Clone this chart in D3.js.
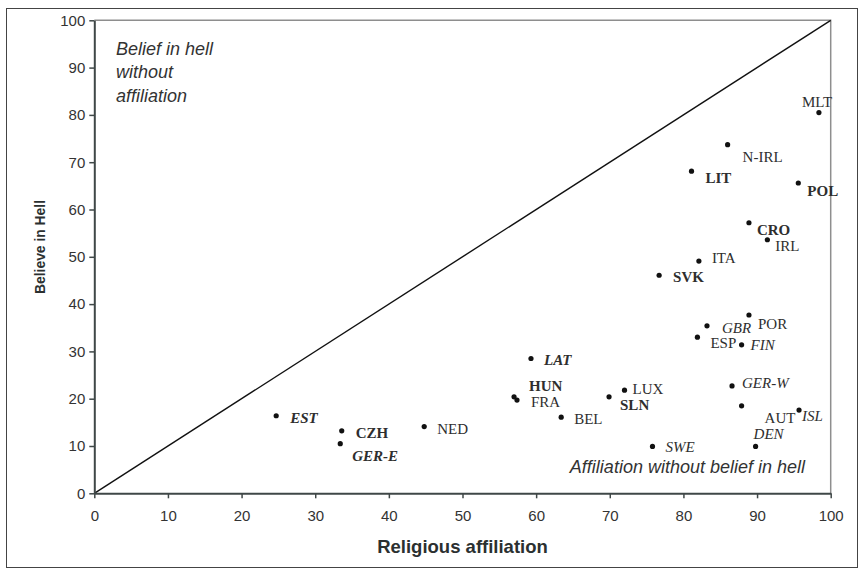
<!DOCTYPE html>
<html>
<head>
<meta charset="utf-8">
<script src="https://cdn.jsdelivr.net/npm/d3@7"></script>
<style>
  html, body { margin: 0; padding: 0; background: #fff; }
  svg { display: block; }
  .tick text { font-family: "Liberation Sans", Arial, sans-serif; font-size: 15px; fill: #333; }
  .country { font-family: "Liberation Serif", "Times New Roman", serif; font-size: 15px; fill: #2e2e2e; }
  .note { font-family: "Liberation Sans", Arial, sans-serif; font-size: 18px; font-style: italic; fill: #333; }
  .axis-title { font-family: "Liberation Sans", Arial, sans-serif; font-weight: bold; fill: #2b3030; }
</style>
</head>
<body>
<svg id="chart" width="864" height="575"></svg>
<script>
// Religious affiliation (%) vs belief in hell (%), by country
const countries = ['MLT', 'N-IRL', 'LIT', 'POL', 'CRO', 'IRL', 'ITA', 'SVK', 'POR', 'GBR', 'ESP', 'FIN', 'GER-W',
  'AUT', 'ISL', 'DEN', 'SWE', 'LUX', 'SLN', 'BEL', 'HUN', 'FRA', 'LAT', 'NED', 'EST', 'CZH', 'GER-E'];
const affiliation = [98.4, 86.0, 81.1, 95.6, 88.9, 91.4, 82.1, 76.7, 88.9, 83.2, 81.9, 87.9, 86.6,
  87.9, 95.7, 89.8, 75.8, 72.0, 69.9, 63.4, 57.0, 57.4, 59.3, 44.8, 24.7, 33.6, 33.4];
const hell = [80.5, 73.7, 68.1, 65.6, 57.2, 53.6, 49.1, 46.1, 37.7, 35.4, 33.0, 31.4, 22.7,
  18.5, 17.6, 9.9, 9.9, 21.8, 20.4, 16.1, 20.4, 19.7, 28.5, 14.1, 16.4, 13.2, 10.5];
// c = catholic/other, p = protestant, e = post-communist, ep = post-communist protestant
const groups = ['c', 'c', 'e', 'e', 'e', 'c', 'c', 'e', 'c', 'p', 'c', 'p', 'p',
  'c', 'p', 'p', 'p', 'c', 'e', 'c', 'e', 'c', 'ep', 'c', 'ep', 'e', 'ep'];
const ticks = [0, 10, 20, 30, 40, 50, 60, 70, 80, 90, 100];

// label placement relative to the dot (px), layout only
const labelNudge = {
  'MLT': [-17, -6], 'N-IRL': [15, 17], 'LIT': [14, 12], 'POL': [9, 13], 'CRO': [8, 12], 'IRL': [8, 11],
  'ITA': [13, 2], 'SVK': [14, 7], 'POR': [9, 14], 'GBR': [15, 7], 'ESP': [13, 11], 'FIN': [9, 5],
  'GER-W': [10, 2], 'AUT': [23, 17], 'ISL': [3, 11], 'DEN': [-2, -7], 'SWE': [13, 6], 'LUX': [8, 4],
  'SLN': [11, 13], 'BEL': [13, 7], 'HUN': [15, -6], 'FRA': [14, 7], 'LAT': [13, 7], 'NED': [13, 7],
  'EST': [14, 7], 'CZH': [14, 7], 'GER-E': [12, 17]
};

const points = countries.map((name, i) => ({
  name, x: affiliation[i], y: hell[i], group: groups[i]
}));

const svg = d3.select('#chart');
const x = d3.scaleLinear().domain([0, 100]).range([94.3, 830.7]);
const y = d3.scaleLinear().domain([0, 100]).range([493.3, 20.3]);

// outer frame
svg.append('rect')
  .attr('x', 6.5).attr('y', 8.5).attr('width', 851).attr('height', 559)
  .attr('fill', 'none').attr('stroke', '#444').attr('stroke-width', 1);

// top and right plot borders
svg.append('path')
  .attr('d', `M${x(0)},${y(100)}H${x(100)}V${y(0)}`)
  .attr('fill', 'none').attr('stroke', '#8e8e8e').attr('stroke-width', 1.5);

// diagonal
svg.append('line')
  .attr('x1', x(0)).attr('y1', y(0)).attr('x2', x(100)).attr('y2', y(100))
  .attr('stroke', '#111').attr('stroke-width', 1.4);

const xAxis = svg.append('g')
  .attr('transform', `translate(0,${y(0)})`)
  .call(d3.axisBottom(x).tickValues(ticks).tickSize(5).tickPadding(12).tickSizeOuter(0));
const yAxis = svg.append('g')
  .attr('transform', `translate(${x(0)},0)`)
  .call(d3.axisLeft(y).tickValues(ticks).tickSize(5).tickPadding(4).tickSizeOuter(0));

[xAxis, yAxis].forEach(g => {
  g.select('.domain').attr('stroke', '#3f4747').attr('stroke-width', 2);
  g.selectAll('.tick line').attr('stroke', '#3f4747').attr('stroke-width', 1.5);
});

// dots
svg.append('g').selectAll('circle')
  .data(points)
  .enter()
  .append('circle')
  .attr('cx', d => x(d.x))
  .attr('cy', d => y(d.y))
  .attr('r', 2.6)
  .attr('fill', '#111');

// country labels
svg.append('g').selectAll('text')
  .data(points)
  .enter()
  .append('text')
  .attr('class', 'country')
  .attr('x', d => x(d.x) + labelNudge[d.name][0])
  .attr('y', d => y(d.y) + labelNudge[d.name][1])
  .attr('font-weight', d => d.group.includes('e') ? 'bold' : 'normal')
  .attr('font-style', d => d.group.includes('p') ? 'italic' : 'normal')
  .text(d => d.name);

// annotations
const topNote = svg.append('text').attr('class', 'note').attr('x', 116).attr('y', 55);
['Belief in hell', 'without', 'affiliation'].forEach((line, i) => {
  topNote.append('tspan').attr('x', 116).attr('dy', i === 0 ? 0 : 23.3).text(line);
});
svg.append('text').attr('class', 'note')
  .attr('x', 805).attr('y', 473).attr('text-anchor', 'end')
  .text('Affiliation without belief in hell');

// axis titles
svg.append('text').attr('class', 'axis-title')
  .attr('x', (x(0) + x(100)) / 2).attr('y', 553)
  .attr('text-anchor', 'middle').attr('font-size', 18.5)
  .text('Religious affiliation');
svg.append('text').attr('class', 'axis-title')
  .attr('transform', `translate(45,247) rotate(-90)`)
  .attr('text-anchor', 'middle').attr('font-size', 15)
  .attr('textLength', 94).attr('lengthAdjust', 'spacingAndGlyphs')
  .text('Believe in Hell');
</script>
</body>
</html>
